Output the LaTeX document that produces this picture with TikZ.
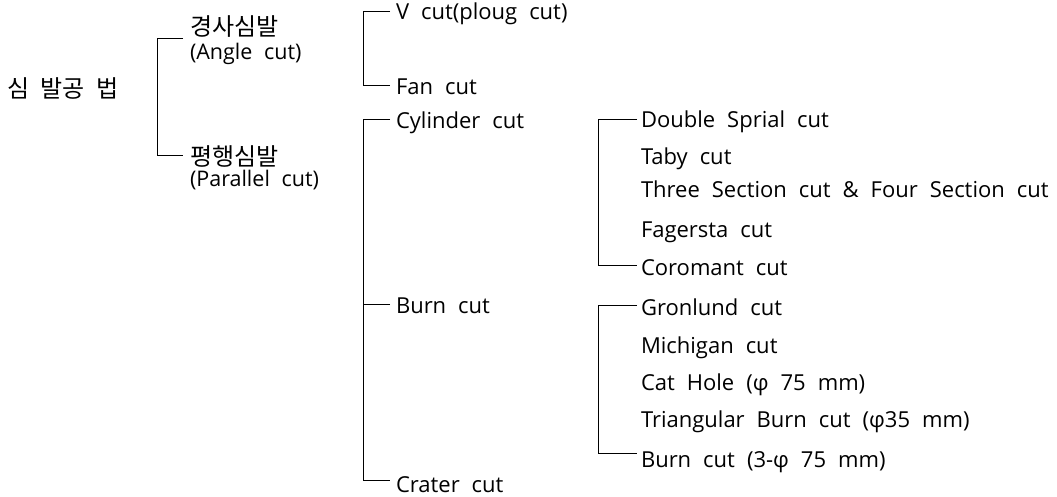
\documentclass[tikz,border=0pt]{standalone}
\usepackage{fontspec}
\setmainfont{Open Sans}[WordSpace=2.1]
\newfontfamily\kr{Noto Sans CJK KR}[WordSpace=2.2]
\begin{document}
\begin{tikzpicture}[x=1pt,y=-1pt,
  every node/.style={inner sep=0pt,outer sep=0pt},
  lbl/.style={anchor=base west,font=\fontsize{22}{22}\selectfont},
  lblsm/.style={anchor=base west,font=\fontsize{21.5}{21.5}\selectfont},
  krl/.style={anchor=base west,font=\kr\fontsize{24}{24}\selectfont},
  link/.style={line width=1pt,draw=black}]
\useasboundingbox (0,0) rectangle (1057,497);
% level 0 and 1
\node[krl] (root) at (7,97.5) {심 발공 법};
\node[krl] (angkr) at (190,35.5) {경사심발};
\node[lblsm] (angen) at (190,60) {(Angle cut)};
\node[krl] (parkr) at (190,165.5) {평행심발};
\node[lblsm] (paren) at (190,186) {(Parallel cut)};
% level 2
\node[lbl] (vcut) at (396,20) {V cut(ploug cut)};
\node[lbl] (fan) at (396,95) {Fan cut};
\node[lbl] (cyl) at (396,129) {Cylinder cut};
\node[lbl] (burn) at (396,313) {Burn cut};
\node[lbl] (crater) at (396,492) {Crater cut};
% level 3
\node[lbl] (dbl) at (641,128) {Double Sprial cut};
\node[lbl] (taby) at (641,165) {Taby cut};
\node[lbl] (three) at (641,198) {Three Section cut \& Four Section cut};
\node[lbl] (fag) at (641,237) {Fagersta cut};
\node[lbl] (coro) at (641,275) {Coromant cut};
\node[lbl] (gron) at (641,315) {Gronlund cut};
\node[lbl] (mich) at (641,353) {Michigan cut};
\node[lbl] (cat) at (641,390) {Cat Hole (φ 75 mm)};
\node[lbl] (tri) at (641,427) {Triangular Burn cut (φ35 mm)};
\node[lbl] (burn3) at (641,467) {Burn cut (3-φ 75 mm)};
% connector ends
\coordinate (eang) at (183,39);
\coordinate (epar) at (183,156);
\coordinate (ev) at (390,12);
\coordinate (efan) at (390,86);
\coordinate (ecyl) at (390,120);
\coordinate (eburn) at (390,304);
\coordinate (ecrat) at (390,480);
\coordinate (edbl) at (637,120);
\coordinate (ecoro) at (637,265);
\coordinate (egron) at (637,305);
\coordinate (eb3) at (637,453);
% brackets
\draw[link] (eang) -- ++(-26,0) |- (epar);
\draw[link] (ev) -- ++(-27,0) |- (efan);
\draw[link] (ecyl) -- ++(-27,0) |- (ecrat);
\draw[link] (eburn) -- ++(-27,0);
\draw[link] (edbl) -- ++(-39,0) |- (ecoro);
\draw[link] (egron) -- ++(-39,0) |- (eb3);
\end{tikzpicture}
\end{document}
